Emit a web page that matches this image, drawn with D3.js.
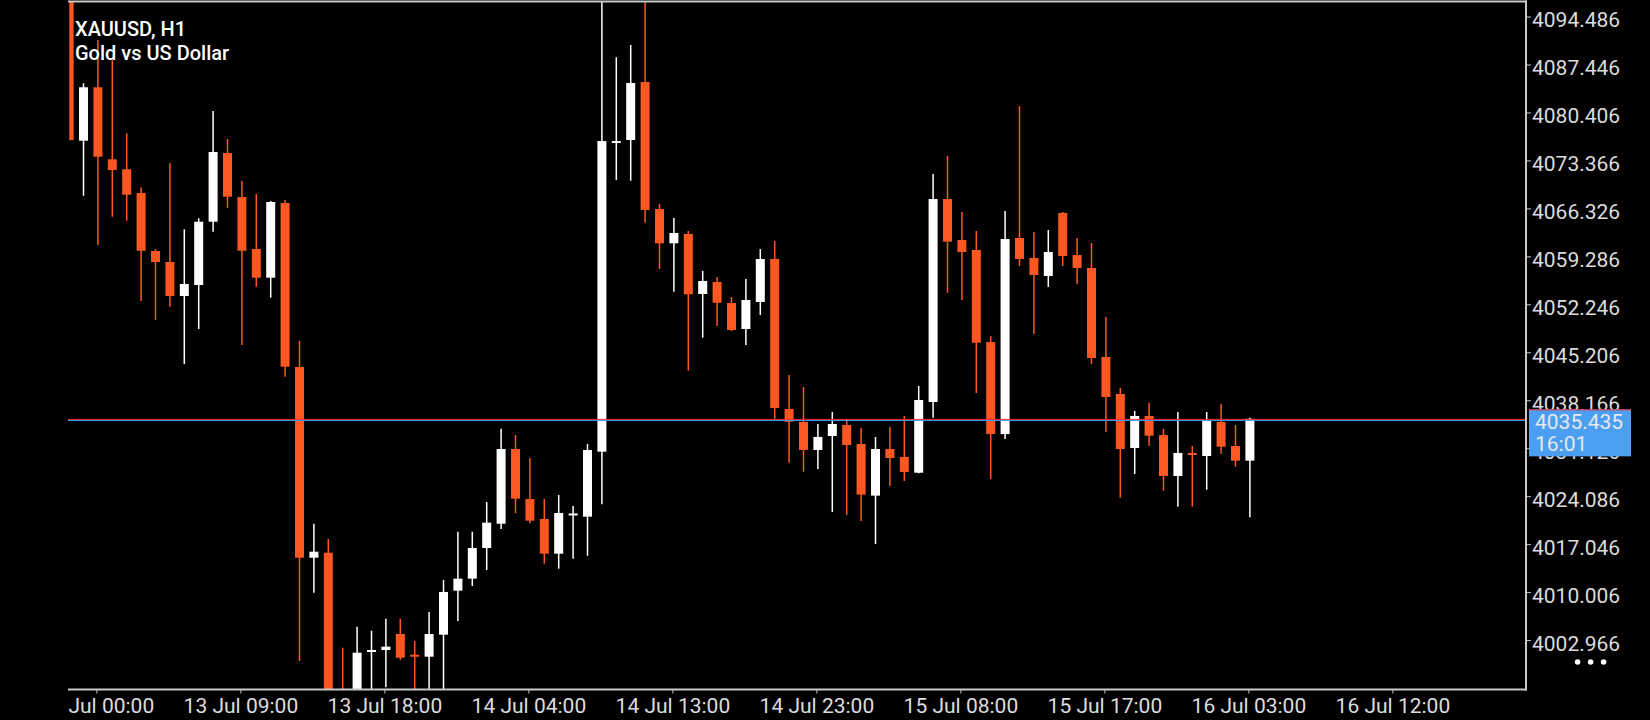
<!DOCTYPE html>
<html><head><meta charset="utf-8">
<script src="https://cdn.jsdelivr.net/npm/d3@7"></script>
<style>
html,body{margin:0;padding:0;background:#000;overflow:hidden}
svg{display:block}
text{font-family:Roboto,"Noto Sans",sans-serif}
</style>
</head><body>
<svg id="chart" width="1650" height="720"></svg>
<script>
// ---- data (bar index -1 is the partly hidden candle at the left edge) ----
const firstIndex = -1;
const opens = [
  4097.00,
  4076.26,4084.10,4073.53,4072.06,4068.58,4060.07,4058.46,4053.47,4055.08,4064.37,
  4074.45,4067.99,4060.36,4056.15,4067.12,4043.05,4015.06,4015.79,3995.20,3994.50,
  4001.22,4001.51,4003.86,4000.82,4000.53,4003.76,4010.22,4011.98,4016.48,4020.05,
  4031.01,4023.67,4020.74,4015.65,4021.40,4021.08,4030.62,4075.96,4076.36,4084.87,
  4066.23,4061.20,4062.57,4053.76,4055.52,4052.44,4048.62,4052.59,4058.90,4036.88,
  4034.98,4030.87,4032.92,4034.54,4031.75,4024.17,4031.01,4029.84,4027.53,4037.91,
  4067.70,4061.69,4060.22,4046.71,4033.20,4061.98,4059.04,4056.41,4065.65,4059.48,
  4057.58,4044.52,4039.08,4031.16,4035.86,4033.07,4027.05,4030.43,4029.99,4034.98,
  4031.45,4029.30
];
const highs = [
  4097.20,
  4084.68,4091.04,4088.10,4077.34,4069.42,4060.36,4072.94,4063.26,4064.87,4080.62,
  4076.51,4070.34,4068.44,4067.41,4067.56,4046.86,4020.05,4017.81,4001.85,4004.93,
  4004.35,4006.11,4006.11,4002.84,4007.09,4011.79,4018.88,4018.88,4023.23,4033.97,
  4033.07,4029.69,4023.67,4024.26,4022.65,4031.75,4096.80,4088.50,4090.30,4096.80,
  4066.97,4064.91,4063.01,4057.14,4056.26,4053.32,4055.96,4060.36,4061.54,4041.87,
  4040.11,4034.68,4036.44,4035.42,4034.10,4032.77,4034.24,4035.86,4040.26,4071.37,
  4074.01,4065.79,4063.01,4047.60,4065.94,4081.35,4062.86,4063.16,4065.79,4061.98,
  4061.25,4050.38,4039.96,4036.59,4037.81,4033.95,4036.44,4031.45,4036.44,4037.62,
  4034.53,4035.60
];
const lows = [
  4076.20,
  4068.19,4060.95,4065.10,4064.52,4052.73,4049.94,4051.90,4043.49,4048.62,4062.90,
  4066.38,4046.28,4054.83,4053.22,4041.62,3999.90,4009.92,3993.00,3992.00,3993.00,
  3995.50,3996.04,4000.05,3995.00,3995.00,3995.50,4005.77,4010.91,4013.26,4019.27,
  4021.58,4020.11,4014.18,4013.44,4014.91,4015.35,4022.90,4070.49,4070.39,4064.22,
  4057.43,4054.10,4042.51,4047.35,4049.06,4048.33,4046.28,4050.68,4035.42,4028.98,
  4027.68,4028.08,4021.77,4021.33,4020.44,4017.07,4025.58,4026.32,4027.45,4035.61,
  4053.95,4052.88,4039.23,4026.61,4032.48,4057.87,4047.89,4054.79,4057.87,4055.23,
  4043.49,4033.51,4023.86,4027.34,4031.50,4024.89,4022.54,4022.54,4025.04,4030.32,
  4028.41,4020.99
];
const closes = [
  4076.36,
  4084.10,4073.91,4071.96,4068.33,4060.11,4058.46,4053.47,4055.23,4064.37,4074.60,
  4068.04,4060.11,4056.15,4067.26,4043.09,4015.06,4015.94,3995.00,3993.80,4001.12,
  4001.51,4002.00,4000.38,4000.59,4003.86,4010.03,4011.98,4016.48,4020.20,4031.01,
  4023.72,4020.49,4015.65,4021.62,4021.55,4030.87,4076.21,4076.21,4084.73,4066.09,
  4061.20,4062.71,4053.72,4055.67,4052.48,4048.48,4052.88,4058.90,4037.03,4035.02,
  4030.87,4032.78,4034.68,4031.60,4024.32,4031.01,4029.69,4027.64,4038.20,4067.70,
  4061.44,4059.93,4046.61,4033.20,4061.83,4058.90,4056.55,4059.93,4059.34,4057.58,
  4044.37,4038.64,4031.01,4035.86,4032.96,4027.05,4030.43,4030.18,4035.12,4031.35,
  4029.30,4035.435
];
const xTickIndex  = [1, 11, 21, 31, 41, 51, 61, 71, 81, 91];
const xTickLabels = ["13 Jul 00:00","13 Jul 09:00","13 Jul 18:00","14 Jul 04:00","14 Jul 13:00",
                     "14 Jul 23:00","15 Jul 08:00","15 Jul 17:00","16 Jul 03:00","16 Jul 12:00"];
const yTicks = [4094.486,4087.446,4080.406,4073.366,4066.326,4059.286,4052.246,4045.206,
                4038.166,4031.126,4024.086,4017.046,4010.006,4002.966];
const symbolTitle = "XAUUSD, H1";
const symbolName  = "Gold vs US Dollar";
const currentPrice = 4035.435;
const timeLeft = "16:01";

// ---- layout ----
const W = 1650, H = 720;
const plot = {left: 68, right: 1526, top: 2, bottom: 689.5};
const bull = "#ffffff", bear = "#ff5722";
const frameColor = "#c8c8c8", labelColor = "#dcdcdc";

const candles = opens.map((o, k) => ({i: firstIndex + k, o, h: highs[k], l: lows[k], c: closes[k]}));

const x = d3.scaleLinear().domain([0, 81]).range([83.5, 1249.9]);
const y = d3.scaleLinear().domain([4002.966, 4094.486]).range([640.1, 16.5]);

const svg = d3.select("#chart");
svg.append("rect").attr("width", W).attr("height", H).attr("fill", "#000");

const defs = svg.append("defs");
defs.append("clipPath").attr("id", "plotClip").append("rect")
  .attr("x", 69.5).attr("y", plot.top).attr("width", plot.right - 69.5).attr("height", plot.bottom - plot.top);
defs.append("clipPath").attr("id", "xClip").append("rect")
  .attr("x", 66).attr("y", plot.bottom).attr("width", W - 66).attr("height", H - plot.bottom);

// ---- candles ----
const g = svg.append("g").attr("clip-path", "url(#plotClip)");
const cg = g.selectAll("g.c").data(candles).join("g").attr("class", "c");
cg.append("line")
  .attr("x1", d => x(d.i)).attr("x2", d => x(d.i))
  .attr("y1", d => y(d.h)).attr("y2", d => y(d.l))
  .attr("stroke", d => d.c >= d.o ? bull : bear).attr("stroke-width", 1.5);
cg.append("rect")
  .attr("x", d => x(d.i) - 4.5).attr("width", 9)
  .attr("y", d => Math.min(y(d.o), y(d.c)))
  .attr("height", d => Math.max(2, Math.abs(y(d.o) - y(d.c))))
  .attr("fill", d => d.c >= d.o ? bull : bear);

// ---- current price lines ----
svg.append("line").attr("x1", plot.left).attr("x2", plot.right)
  .attr("y1", y(currentPrice) + 1.6).attr("y2", y(currentPrice) + 1.6)
  .attr("stroke", "#3d9bff").attr("stroke-width", 1);
svg.append("line").attr("x1", plot.left).attr("x2", plot.right)
  .attr("y1", y(currentPrice) + 0.5).attr("y2", y(currentPrice) + 0.5)
  .attr("stroke", "#ff2d2d").attr("stroke-width", 1);

// ---- frame ----
svg.append("line").attr("x1", plot.left).attr("x2", plot.right + 1).attr("y1", 1.5).attr("y2", 1.5)
  .attr("stroke", frameColor).attr("stroke-width", 2);
svg.append("line").attr("x1", plot.right).attr("x2", plot.right).attr("y1", 0.5).attr("y2", plot.bottom + 1)
  .attr("stroke", frameColor).attr("stroke-width", 2);
svg.append("line").attr("x1", plot.left).attr("x2", plot.right + 1).attr("y1", plot.bottom).attr("y2", plot.bottom)
  .attr("stroke", frameColor).attr("stroke-width", 2);

// ---- y axis ----
const yAxis = d3.axisRight(y).tickValues(yTicks).tickSize(5).tickPadding(1)
  .tickFormat(d3.format(".3f"));
const ya = svg.append("g").attr("transform", `translate(${plot.right},0)`).call(yAxis);
ya.select(".domain").remove();
ya.selectAll(".tick line").attr("stroke", frameColor).attr("stroke-width", 1);
ya.selectAll(".tick text").attr("fill", labelColor).attr("font-size", 21)
  .attr("font-family", "Roboto, 'Noto Sans', sans-serif").attr("dy", null).attr("y", 10.2);

// ---- x axis ----
const xAxis = d3.axisBottom(x).tickValues(xTickIndex).tickSize(4)
  .tickFormat((d, k) => xTickLabels[k]);
const xa = svg.append("g").attr("clip-path", "url(#xClip)")
  .append("g").attr("transform", `translate(-1.5,${plot.bottom})`).call(xAxis);
xa.select(".domain").remove();
xa.selectAll(".tick line").attr("stroke", frameColor).attr("stroke-width", 1);
xa.selectAll(".tick text").attr("fill", labelColor).attr("font-size", 21)
  .attr("font-family", "Roboto, 'Noto Sans', sans-serif").attr("dy", null).attr("y", 23.5);

// ---- price box ----
const bx = 1529, by = y(currentPrice) - 9.5;
svg.append("rect").attr("x", bx).attr("y", by).attr("width", 102).attr("height", 47)
  .attr("fill", "#4a9ff2");
svg.append("line").attr("x1", bx).attr("x2", bx + 102).attr("y1", by + 0.5).attr("y2", by + 0.5)
  .attr("stroke", "#ff2d2d").attr("stroke-width", 1);
svg.append("text").attr("x", bx + 6).attr("y", by + 19.5).attr("fill", "#e8e8e8")
  .attr("font-size", 21).text(d3.format(".3f")(currentPrice));
svg.append("text").attr("x", bx + 6).attr("y", by + 42).attr("fill", "#e8e8e8")
  .attr("font-size", 21).text(timeLeft);

// ---- title ----
svg.append("text").attr("x", 75).attr("y", 35.7).attr("fill", "#fff").attr("font-size", 20)
  .attr("font-weight", 500).text(symbolTitle);
svg.append("text").attr("x", 75).attr("y", 60).attr("fill", "#fff").attr("font-size", 20)
  .attr("font-weight", 500).text(symbolName);

// ---- menu dots ----
svg.selectAll("circle.dot").data([1577.6, 1590.6, 1603.6]).join("circle").attr("class", "dot")
  .attr("cx", d => d).attr("cy", 662).attr("r", 2.8).attr("fill", "#fff");
</script>
</body></html>
